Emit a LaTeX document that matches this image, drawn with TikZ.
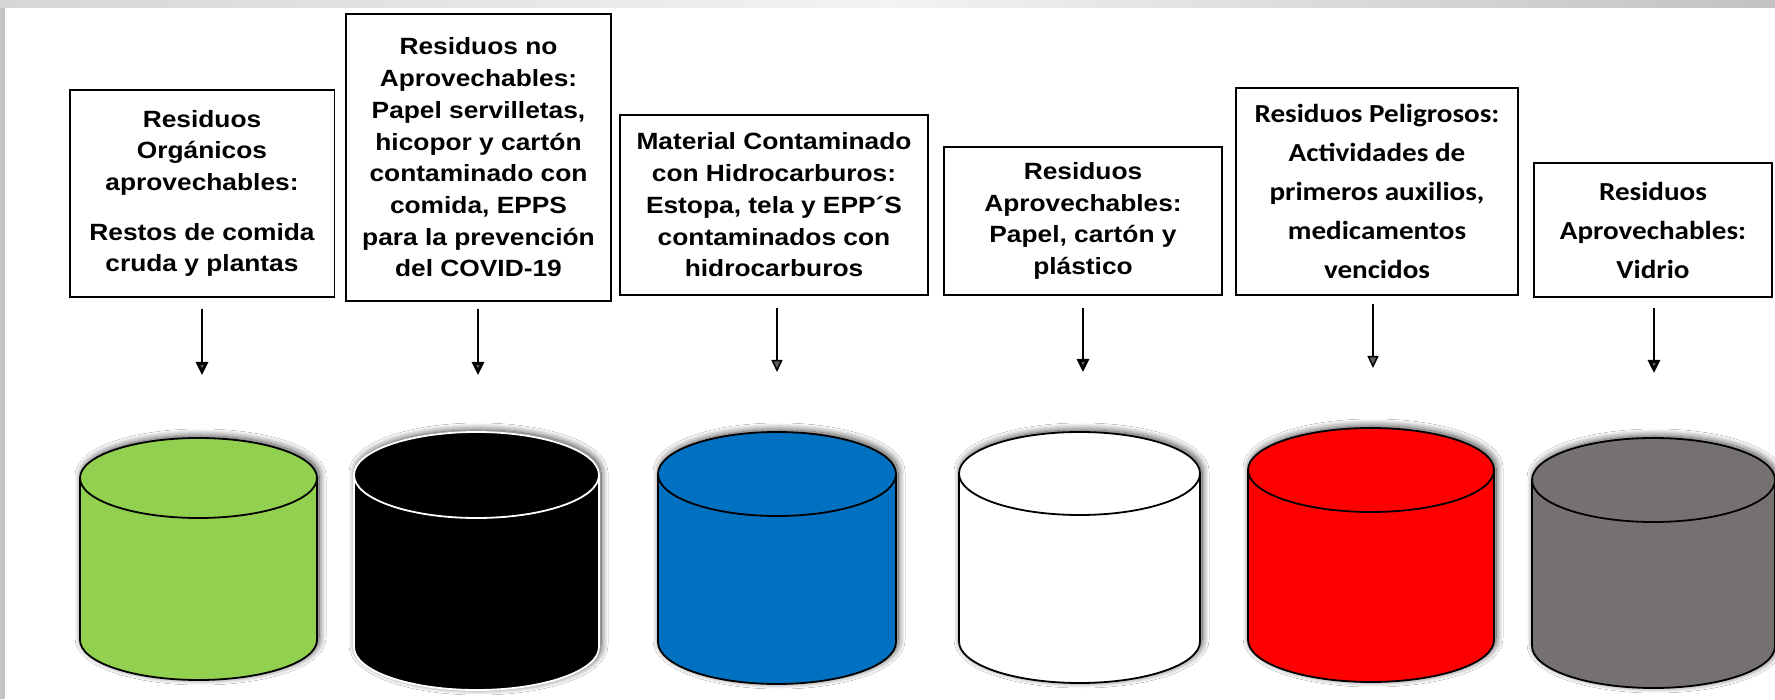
\documentclass[tikz,border=0pt]{standalone}
\usepackage{fontspec}
\usetikzlibrary{arrows.meta,shadows.blur}
\newfontfamily\arialf{Liberation Sans}[FakeStretch=1.12]
\newfontfamily\calif{Carlito}[FakeStretch=1.12]
\definecolor{cgreen}{HTML}{92D050}
\definecolor{cblue}{HTML}{0070C0}
\definecolor{cred}{HTML}{FF0000}
\definecolor{cgray}{HTML}{767171}
\definecolor{stripL}{HTML}{D6D6D6}
\definecolor{stripM}{HTML}{F3F3F3}
\definecolor{stripR}{HTML}{C2C2C2}
\definecolor{sideS}{HTML}{C3C3C3}
\tikzset{
  box/.style={draw, line width=1.5pt, fill=white, align=center, inner sep=0pt},
  ftA/.style={font=\arialf\bfseries\fontsize{23.5}{31.7}\selectfont},
  ftC/.style={font=\calif\bfseries\fontsize{26}{39}\selectfont},
  arrthick/.style={line width=2.8pt, -{Triangle[length=13pt,width=12pt]}},
  arrthin/.style={line width=1.5pt, -{Triangle[length=12pt,width=11pt]}},
  cylshadow/.style={blur shadow={shadow xshift=2pt, shadow yshift=2pt, shadow blur radius=7pt, shadow blur steps=20, shadow opacity=75}}
}
% #1 cx, #2 yt, #3 yb, #4 rx, #5 ry, #6 fill, #7 outline
\newcommand\mycyl[7]{%
  \fill[#6, cylshadow] (#1-#4,#2) arc[start angle=180, end angle=0, x radius=#4, y radius=#5]
     -- (#1+#4,#3) arc[start angle=0, end angle=-180, x radius=#4, y radius=#5] -- cycle;
  \draw[#7, line width=1.8pt, line join=round] (#1-#4,#2) -- (#1-#4,#3)
     arc[start angle=180, end angle=360, x radius=#4, y radius=#5] -- (#1+#4,#2);
  \draw[#7, line width=1.8pt, fill=#6] (#1,#2) ellipse [x radius=#4, y radius=#5];
}
\begin{document}
\begin{tikzpicture}[x=1pt,y=1pt]
\useasboundingbox (0,0) rectangle (1775,699);
\fill[white] (0,0) rectangle (1775,699);
\shade[left color=stripL, right color=stripR, middle color=stripM] (0,691) rectangle (1775,699);
\fill[sideS] (0,0) rectangle (5,691);

% boxes
\node[box, ftA, minimum width=264.5, minimum height=207] (b1) at (202,505.5)
  {Residuos\\Orgánicos\\aprovechables:\\[18pt]Restos de comida\\cruda y plantas};
\node[box, ftA, minimum width=265, minimum height=287] (b2) at (478.5,541.5)
  {Residuos no\\Aprovechables:\\Papel servilletas,\\hicopor y cartón\\contaminado con\\comida, EPPS\\para la prevención\\del COVID-19};
\node[box, ftA, minimum width=308, minimum height=180] (b3) at (774,494)
  {Material Contaminado\\con Hidrocarburos:\\Estopa, tela y EPP´S\\contaminados con\\hidrocarburos};
\node[box, ftA, minimum width=278, minimum height=148] (b4) at (1083,478)
  {Residuos\\Aprovechables:\\Papel, cartón y\\plástico};
\node[box, ftC, minimum width=282, minimum height=207] (b5) at (1377,507.5)
  {Residuos Peligrosos:\\Actividades de\\primeros auxilios,\\medicamentos\\vencidos};
\node[box, ftC, minimum width=238, minimum height=134] (b6) at (1653,469)
  {Residuos\\Aprovechables:\\Vidrio};

% cylinders
\mycyl{198.5}{221}{59}{118.5}{40}{cgreen}{black}
\mycyl{476.5}{224}{52}{122.5}{43}{black}{white}
\mycyl{777}{225}{57}{119}{42}{cblue}{black}
\mycyl{1079.5}{225.5}{57.5}{120.5}{41.5}{white}{black}
\mycyl{1371}{229}{59}{123}{42}{cred}{black}
\mycyl{1653.5}{219}{53}{121.5}{42}{cgray}{black}

% arrow ends
\coordinate (t1) at (202,324);
\coordinate (t2) at (478,324);
\coordinate (t3) at (777,327);
\coordinate (t4) at (1083,327);
\coordinate (t5) at (1373,331);
\coordinate (t6) at (1654,326);

\draw[arrthick, shorten <=11pt] (b1.south -| t1) -- (t1);
\draw[arrthick, shorten <=7pt] (b2.south -| t2) -- (t2);
\draw[arrthin, shorten <=12pt] (b3.south -| t3) -- (t3);
\draw[arrthick, shorten <=12pt] (b4.south -| t4) -- (t4);
\draw[arrthin, shorten <=8pt] (b5.south -| t5) -- (t5);
\draw[arrthick, shorten <=10pt] (b6.south -| t6) -- (t6);
\end{tikzpicture}
\end{document}
